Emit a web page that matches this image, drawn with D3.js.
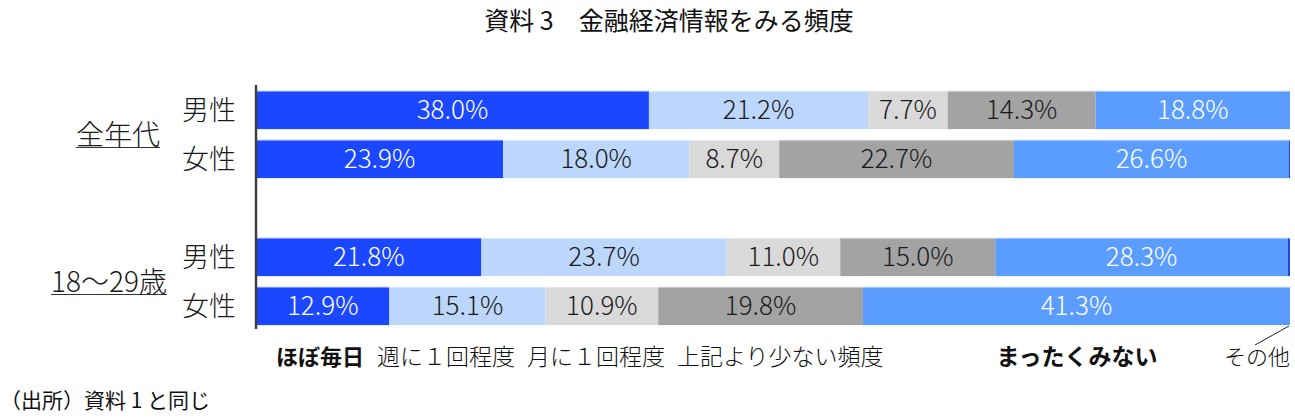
<!DOCTYPE html>
<html>
<head>
<meta charset="utf-8">
<script src="https://cdn.jsdelivr.net/npm/d3@7"></script>
<style>
  body { margin: 0; background: #fff; }
  text { font-family: "Noto Sans CJK JP", "Noto Sans", sans-serif; }
</style>
</head>
<body>
<svg id="chart" width="1295" height="419"></svg>
<script>
// rows (blank key = gap between groups)
const rows = ['all_m', 'all_f', 'gap', 'y_m', 'y_f'];
const rowLabels = ['男性', '女性', '', '男性', '女性'];
const groups = ['全年代', '18～29歳'];
const groupRows = [['all_m', 'all_f'], ['y_m', 'y_f']];

const series = ['ほぼ毎日', '週に１回程度', '月に１回程度', '上記より少ない頻度', 'まったくみない', 'その他'];
const colors = ['#1a47ff', '#bdd7fc', '#d9d9d9', '#a3a3a3', '#5b9dff', '#2346e8'];
const textColors = ['#fff', '#1a1a1a', '#1a1a1a', '#1a1a1a', '#fff', '#fff'];

const values = {
  all_m: [38.0, 21.2, 7.7, 14.3, 18.8, 0.0],
  all_f: [23.9, 18.0, 8.7, 22.7, 26.6, 0.1],
  y_m:   [21.8, 23.7, 11.0, 15.0, 28.3, 0.2],
  y_f:   [12.9, 15.1, 10.9, 19.8, 41.3, 0.0]
};

const title = '資料 3　金融経済情報をみる頻度';
const source = '（出所）資料 1 と同じ';

const svg = d3.select('#chart');

const x = d3.scaleLinear().domain([0, 100]).range([256, 1290]);
const y = d3.scaleBand().domain(rows).range([85.5, 330.5]).paddingInner(0.22).paddingOuter(0.11);

svg.append('text')
  .attr('x', 669).attr('y', 30)
  .attr('text-anchor', 'middle')
  .attr('font-size', 25)
  .attr('fill', '#111')
  .text(title);

// stacked bars
const stacked = rows.filter(r => values[r]).map(r => {
  let acc = 0;
  return values[r].map((v, i) => {
    const d = { row: r, i, v, x0: acc, x1: acc + v };
    acc += v;
    return d;
  });
});

const rowG = svg.selectAll('g.row')
  .data(stacked)
  .enter().append('g')
  .attr('class', 'row');

rowG.selectAll('rect')
  .data(d => d.filter(s => s.v > 0))
  .enter().append('rect')
  .attr('x', d => x(d.x0))
  .attr('y', d => y(d.row))
  .attr('width', d => x(d.x1) - x(d.x0))
  .attr('height', y.bandwidth())
  .attr('fill', d => colors[d.i]);

// thin light edge on top of each bar
rowG.append('line')
  .attr('x1', x(0)).attr('x2', x(100))
  .attr('y1', d => y(d[0].row) + 0.5).attr('y2', d => y(d[0].row) + 0.5)
  .attr('stroke', '#fff').attr('stroke-opacity', 0.45);

rowG.selectAll('text')
  .data(d => d.filter(s => s.v >= 5))
  .enter().append('text')
  .attr('x', d => x((d.x0 + d.x1) / 2))
  .attr('y', d => y(d.row) + y.bandwidth() / 2)
  .attr('dy', '0.36em')
  .attr('text-anchor', 'middle')
  .attr('font-size', 26)
  .attr('font-weight', 300)
  .attr('fill', d => textColors[d.i])
  .text(d => d.v.toFixed(1) + '%');

// vertical axis line
svg.append('line')
  .attr('x1', x(0)).attr('x2', x(0))
  .attr('y1', 85).attr('y2', 329)
  .attr('stroke', '#404040').attr('stroke-width', 2.5);

// row labels
svg.selectAll('text.rowlab')
  .data(rows.filter((r, i) => rowLabels[i]))
  .enter().append('text')
  .attr('class', 'rowlab')
  .attr('x', 236)
  .attr('y', r => y(r) + y.bandwidth() / 2)
  .attr('dy', '0.36em')
  .attr('text-anchor', 'end')
  .attr('font-size', 27)
  .attr('font-weight', 300)
  .attr('fill', '#1a1a1a')
  .text(r => rowLabels[rows.indexOf(r)]);

// group labels (underlined)
groups.forEach((g, gi) => {
  const r = groupRows[gi];
  const cy = (y(r[0]) + y(r[1]) + y.bandwidth()) / 2;
  const rightX = gi === 0 ? 160 : 167;
  const t = svg.append('text')
    .attr('x', rightX)
    .attr('y', cy)
    .attr('dy', '0.36em')
    .attr('text-anchor', 'end')
    .attr('font-size', 28)
    .attr('font-weight', 300)
    .attr('fill', '#1a1a1a')
    .text(g);
  const bb = t.node().getBBox();
  svg.append('line')
    .attr('x1', bb.x).attr('x2', bb.x + bb.width)
    .attr('y1', cy + 13).attr('y2', cy + 13)
    .attr('stroke', '#333').attr('stroke-width', 1.2);
});

// legend labels
const legY = 365;
const legX = [276, 377, 527, 677];
series.slice(0, 4).forEach((s, i) => {
  svg.append('text')
    .attr('x', legX[i]).attr('y', legY)
    .attr('font-size', i === 0 ? 22 : 23)
    .attr('font-weight', i === 0 ? 700 : 300)
    .attr('fill', '#111')
    .text(s);
});

svg.append('text')
  .attr('x', 1077).attr('y', legY)
  .attr('text-anchor', 'middle')
  .attr('font-size', 23)
  .attr('font-weight', 700)
  .attr('fill', '#111')
  .text(series[4]);

svg.append('text')
  .attr('x', 1290).attr('y', legY)
  .attr('text-anchor', 'end')
  .attr('font-size', 22)
  .attr('font-weight', 300)
  .attr('fill', '#111')
  .text(series[5]);

svg.append('line')
  .attr('x1', 1289).attr('y1', 326)
  .attr('x2', 1255).attr('y2', 345)
  .attr('stroke', '#222').attr('stroke-width', 1);

svg.append('text')
  .attr('x', 0).attr('y', 408)
  .attr('font-size', 21)
  .attr('fill', '#111')
  .text(source);
</script>
</body>
</html>
